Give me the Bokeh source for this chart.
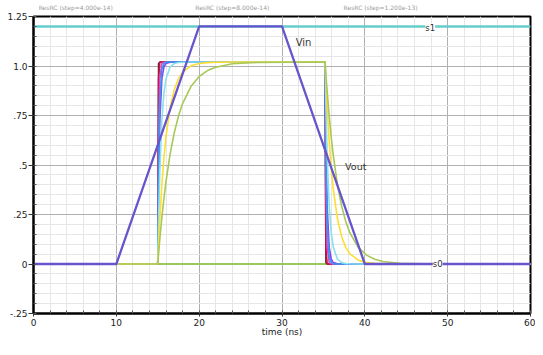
from bokeh.plotting import figure
from bokeh.models import Range1d, FixedTicker, Label, LinearAxis
from bokeh.embed import file_html
from bokeh.resources import INLINE

# ---- data -----------------------------------------------------------------
X_TICKS = [0, 10, 20, 30, 40, 50, 60]
Y_TICKS = [-0.25, 0, 0.25, 0.5, 0.75, 1.0, 1.25]
Y_LABELS = ["-.25", "0", ".25", ".5", ".75", "1.0", "1.25"]

T_VIN = [0, 10, 20, 30, 40, 60]
VIN = [0, 0, 1.2, 1.2, 0, 0]

T_S1 = [0, 60]
S1 = [1.2, 1.2]
T_S0 = [0, 60]
S0 = [0, 0]

T_START = [0]
T_END = [60]
T_RISE = [15.0, 15.1, 15.25, 15.5, 15.75, 16.0, 16.5, 17.0, 17.5, 18.0, 19.0, 20.0, 21.0, 22.0, 24.0, 27.0]
T_FALL = [35.2, 35.3, 35.45, 35.7, 35.95, 36.2, 36.7, 37.2, 37.7, 38.2, 39.2, 40.2, 41.2, 42.2, 44.2, 47.2]

RISE_1 = [0, 1.013, 1.02, 1.02, 1.02, 1.02, 1.02, 1.02, 1.02, 1.02, 1.02, 1.02, 1.02, 1.02, 1.02, 1.02]
FALL_1 = [1.02, 0.007, 0, 0, 0, 0, 0, 0, 0, 0, 0, 0, 0, 0, 0, 0]
RISE_2 = [0, 0.936, 1.018, 1.02, 1.02, 1.02, 1.02, 1.02, 1.02, 1.02, 1.02, 1.02, 1.02, 1.02, 1.02, 1.02]
FALL_2 = [1.02, 0.084, 0.002, 0, 0, 0, 0, 0, 0, 0, 0, 0, 0, 0, 0, 0]
RISE_3 = [0, 0.645, 0.936, 1.013, 1.019, 1.02, 1.02, 1.02, 1.02, 1.02, 1.02, 1.02, 1.02, 1.02, 1.02, 1.02]
FALL_3 = [1.02, 0.375, 0.084, 0.007, 0.001, 0, 0, 0, 0, 0, 0, 0, 0, 0, 0, 0]
RISE_4 = [0, 0.401, 0.727, 0.936, 0.996, 1.013, 1.019, 1.02, 1.02, 1.02, 1.02, 1.02, 1.02, 1.02, 1.02, 1.02]
FALL_4 = [1.02, 0.619, 0.293, 0.084, 0.024, 0.007, 0.001, 0, 0, 0, 0, 0, 0, 0, 0, 0]
RISE_5 = [0, 0.497, 0.827, 0.984, 1.013, 1.019, 1.02, 1.02, 1.02, 1.02, 1.02, 1.02, 1.02, 1.02, 1.02, 1.02]
FALL_5 = [1.02, 0.523, 0.193, 0.036, 0.007, 0.001, 0, 0, 0, 0, 0, 0, 0, 0, 0, 0]
RISE_6 = [0, 0.226, 0.474, 0.727, 0.864, 0.936, 0.996, 1.013, 1.018, 1.019, 1.02, 1.02, 1.02, 1.02, 1.02, 1.02]
FALL_6 = [1.02, 0.794, 0.546, 0.293, 0.156, 0.084, 0.024, 0.007, 0.002, 0.001, 0, 0, 0, 0, 0, 0]
RISE_7 = [0, 0.097, 0.226, 0.401, 0.538, 0.645, 0.793, 0.882, 0.936, 0.969, 1.001, 1.013, 1.017, 1.019, 1.02, 1.02]
FALL_7 = [1.02, 0.923, 0.794, 0.619, 0.482, 0.375, 0.227, 0.138, 0.084, 0.051, 0.019, 0.007, 0.003, 0.001, 0, 0]
RISE_8 = [0, 0.052, 0.126, 0.236, 0.333, 0.417, 0.557, 0.664, 0.747, 0.810, 0.896, 0.947, 0.977, 0.994, 1.011, 1.018]
FALL_8 = [1.02, 0.958, 0.873, 0.746, 0.638, 0.546, 0.399, 0.292, 0.214, 0.157, 0.084, 0.045, 0.024, 0.013, 0.004, 0.001]

VOUT = [
    (RISE_1, FALL_1, "#5b2b35"),
    (RISE_2, FALL_2, "#cc1144"),
    (RISE_3, FALL_3, "#dd44cc"),
    (RISE_4, FALL_4, "#8844ee"),
    (RISE_5, FALL_5, "#3399ee"),
    (RISE_6, FALL_6, "#88e0ee"),
    (RISE_7, FALL_7, "#ffdd33"),
    (RISE_8, FALL_8, "#a8c858"),
]

HEADERS = ["ResRC (step=4.000e-14)", "ResRC (step=8.000e-14)", "ResRC (step=1.200e-13)"]
HEADER_X = [5.1, 24.0, 41.9]

# ---- figure ---------------------------------------------------------------
FONT = "DejaVu Sans"
p = figure(width=535, height=339, output_backend="svg", toolbar_location=None,
           x_range=Range1d(0, 60), y_range=Range1d(-0.25, 1.25),
           min_border_left=33, min_border_right=5, min_border_top=15, min_border_bottom=0,
           background_fill_color="white", border_fill_color="white")

p.outline_line_color = "black"
p.outline_line_width = 2

p.xaxis.ticker = FixedTicker(ticks=X_TICKS, minor_ticks=list(range(0, 61, 2)))
p.yaxis.ticker = FixedTicker(ticks=Y_TICKS, minor_ticks=[-0.25 + 0.05 * i for i in range(31)])
p.yaxis.major_label_overrides = {v: s for v, s in zip(Y_TICKS, Y_LABELS)}
p.xaxis.axis_label = "time (ns)"

for ax in (p.xaxis, p.yaxis):
    ax.axis_line_color = "black"
    ax.axis_line_width = 2
    ax.major_tick_line_color = "#333333"
    ax.minor_tick_line_color = "#555555"
    ax.major_label_text_font = FONT
    ax.major_label_text_font_size = "9px"
    ax.major_label_text_color = "#222222"
    ax.axis_label_text_font = FONT
    ax.axis_label_text_font_size = "9px"
    ax.axis_label_text_font_style = "normal"
    ax.axis_label_text_color = "#222222"

p.xaxis.major_tick_out = 3
p.xaxis.major_tick_in = 0
p.xaxis.minor_tick_in = 3
p.xaxis.minor_tick_out = 0
p.xaxis.major_label_standoff = 2
p.xaxis.axis_label_standoff = -2
p.yaxis.major_tick_out = 5
p.yaxis.major_tick_in = 0
p.yaxis.minor_tick_in = 3
p.yaxis.minor_tick_out = 0
p.yaxis.major_label_standoff = 1

# faint header texts above the frame
top = LinearAxis(ticker=FixedTicker(ticks=HEADER_X, minor_ticks=[]),
                 major_label_overrides={x: t for x, t in zip(HEADER_X, HEADERS)})
top.axis_line_color = None
top.major_tick_line_color = None
top.minor_tick_line_color = None
top.major_label_standoff = 0
top.major_label_text_font = FONT
top.major_label_text_font_size = "6px"
top.major_label_text_color = "#9a9a9a"
p.add_layout(top, "above")

for g in (p.xgrid, p.ygrid):
    g.grid_line_color = "#b0b0b0"
    g.grid_line_width = 1
    g.minor_grid_line_color = "#e6e6e6"
    g.minor_grid_line_width = 1

# lines
p.line(T_S1, S1, line_color="#66cccc", line_width=2.5)
p.line(T_S0, S0, line_color="#9ac85a", line_width=2)

for rise, fall, col in VOUT:
    xs = T_START + T_RISE + T_FALL + T_END
    ys = [0] + rise + fall + [0]
    p.line(xs, ys, line_color=col, line_width=1.6)

p.line(T_VIN, VIN, line_color="#6655cc", line_width=2.3)

# labels
def lab(x, y, text, size="10px", bg=None, color="#333333", align="center"):
    kw = dict(x=x, y=y, text=text, text_font=FONT, text_font_size=size,
              text_color=color, text_align=align, text_baseline="middle")
    if bg:
        kw.update(background_fill_color=bg, background_fill_alpha=1.0)
    p.add_layout(Label(**kw))

lab(32.6, 1.117, "Vin", "10px")
lab(38.9, 0.49, "Vout", "9.5px")
lab(47.9, 1.19, "s1", "8.5px", bg="white")
lab(48.8, 0.0, "s0", "8.5px", bg="white")

open("out.html", "w").write(file_html(p, INLINE))
